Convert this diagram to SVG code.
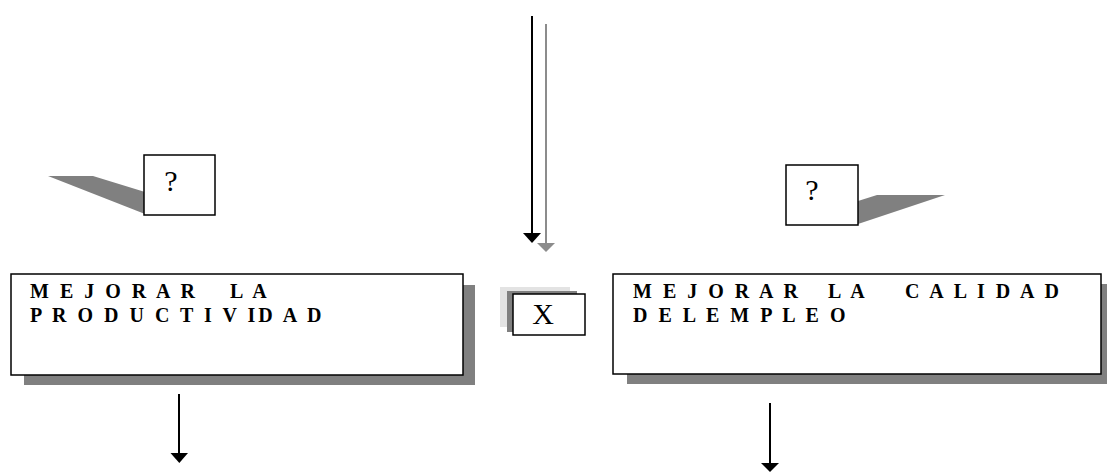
<svg xmlns="http://www.w3.org/2000/svg" width="1107" height="472" viewBox="0 0 1107 472">
<style>
.box{fill:#fff;stroke:#000;stroke-width:1.5}
.shadow{fill:#808080}
.lbl{font-family:"Liberation Serif","Times New Roman",serif;font-weight:bold;font-size:20px;letter-spacing:3px;fill:#000}
.q{font-family:"Liberation Serif","Times New Roman",serif;font-size:30px;fill:#000}
.line{stroke:#000;stroke-width:2;fill:none}
.gline{stroke:#8c8c8c;stroke-width:2;fill:none}
</style>
<rect width="1107" height="472" fill="#fff"/>
<g id="connectors">
  <line class="line" x1="532" y1="16" x2="532" y2="235"/>
  <polygon points="523,233 541,233 532,243" fill="#000"/>
  <line class="gline" x1="546" y1="24" x2="546" y2="245"/>
  <polygon points="537,243 555,243 546,252" fill="#8c8c8c"/>
  <line class="line" x1="179" y1="394" x2="179" y2="455"/>
  <polygon points="170.5,453 188,453 179.3,463" fill="#000"/>
  <line class="line" x1="770" y1="403" x2="770" y2="465"/>
  <polygon points="761,463 779,463 770,472" fill="#000"/>
</g>
<g id="q-left">
  <polygon class="shadow" points="48,176 93,176 145,192 145,214"/>
  <rect class="box" x="144" y="155" width="71" height="60"/>
  <text class="q" x="171" y="191" text-anchor="middle">?</text>
</g>
<g id="q-right">
  <polygon class="shadow" points="858,201 877,195 945,195 858,224"/>
  <rect class="box" x="786" y="165" width="72" height="60"/>
  <text class="q" x="812" y="200" text-anchor="middle">?</text>
</g>
<g id="box-productividad">
  <rect class="shadow" x="24" y="285" width="451" height="100"/>
  <rect class="box" x="11" y="274" width="452" height="101"/>
  <text class="lbl" y="298"><tspan x="30">M E J O R A R</tspan><tspan x="230">L A</tspan></text>
  <text class="lbl" x="30" y="322">P R O D U C T I V ID A D</text>
</g>
<g id="x-node">
  <rect x="500" y="287" width="70" height="40" fill="#e3e3e3"/>
  <rect x="507" y="291" width="70" height="41" fill="#808080"/>
  <rect class="box" x="513" y="294" width="72" height="41"/>
  <text class="q" x="543" y="324" text-anchor="middle">X</text>
</g>
<g id="box-calidad">
  <rect class="shadow" x="627" y="284" width="480" height="100"/>
  <rect class="box" x="613" y="274" width="488" height="100"/>
  <text class="lbl" y="298"><tspan x="633">M E J O R A R</tspan><tspan x="828">L A</tspan><tspan x="905">C A L I D A D</tspan></text>
  <text class="lbl" x="633" y="322">D E L E M P L E O</text>
</g>
</svg>
